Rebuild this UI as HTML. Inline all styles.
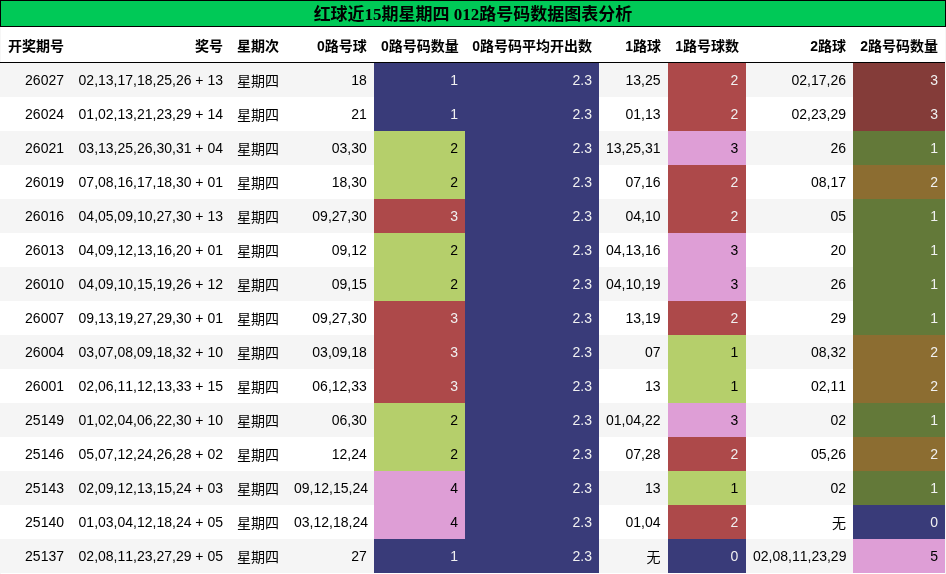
<!DOCTYPE html>
<html lang="zh"><head><meta charset="utf-8"><title>红球近15期星期四 012路号码数据图表分析</title>
<style>
html,body{margin:0;padding:0;background:#fff;}
body{width:946px;height:574px;overflow:hidden;font-kerning:none;font-family:"Liberation Sans","Noto Sans CJK SC",sans-serif;}
table{border-collapse:separate;border-spacing:0;table-layout:fixed;width:945px;color:#000;font-size:14px;position:absolute;left:0;top:27px;}
.edge{position:absolute;top:27px;width:1px;height:547px;background:#f6f6f6;}
.cap{position:absolute;left:0;top:0;width:946px;box-sizing:border-box;height:27px;overflow:hidden;background:#00c957;border:1px solid #000;font-family:"Liberation Serif","Noto Sans CJK SC",serif;font-weight:bold;font-size:17px;line-height:25px;text-align:center;padding:1px 0 0 0;}
th,td{text-align:right;vertical-align:middle;padding:0 7px;white-space:nowrap;border:none;box-sizing:border-box;}
th{font-weight:bold;height:36px;border-bottom:1px solid #000;}
td{height:34px;}
th:nth-child(3),td:nth-child(3){padding-right:8.3px}
th:nth-child(4),td:nth-child(4){padding-right:7.2px}
td:nth-child(7){padding-right:7.5px}
td:nth-child(8){padding-right:7.7px}
tbody tr:nth-child(odd){background:#f5f5f5;}
tbody tr:nth-child(even){background:#fff;}
</style></head><body>
<div class="cap">红球近15期星期四 012路号码数据图表分析</div>
<div class="edge" style="left:0"></div><div class="edge" style="left:945px"></div>
<table>
<colgroup>
<col style="width:71px">
<col style="width:159px">
<col style="width:57px">
<col style="width:87px">
<col style="width:91px">
<col style="width:134px">
<col style="width:69px">
<col style="width:78px">
<col style="width:107px">
<col style="width:92px">
</colgroup>
<thead><tr>
<th>开奖期号</th>
<th>奖号</th>
<th>星期次</th>
<th>0路号球</th>
<th>0路号码数量</th>
<th>0路号码平均开出数</th>
<th>1路球</th>
<th>1路号球数</th>
<th>2路球</th>
<th>2路号码数量</th>
</tr></thead>
<tbody>
<tr><td>26027</td><td>02,13,17,18,25,26 + 13</td><td>星期四</td><td>18</td><td style="background:#393b79;color:#f1f1f1">1</td><td style="background:#393b79;color:#f1f1f1">2.3</td><td>13,25</td><td style="background:#ad494a;color:#f1f1f1">2</td><td>02,17,26</td><td style="background:#843c39;color:#f1f1f1">3</td></tr>
<tr><td>26024</td><td>01,02,13,21,23,29 + 14</td><td>星期四</td><td>21</td><td style="background:#393b79;color:#f1f1f1">1</td><td style="background:#393b79;color:#f1f1f1">2.3</td><td>01,13</td><td style="background:#ad494a;color:#f1f1f1">2</td><td>02,23,29</td><td style="background:#843c39;color:#f1f1f1">3</td></tr>
<tr><td>26021</td><td>03,13,25,26,30,31 + 04</td><td>星期四</td><td>03,30</td><td style="background:#b5cf6b;color:#000">2</td><td style="background:#393b79;color:#f1f1f1">2.3</td><td>13,25,31</td><td style="background:#de9ed6;color:#000">3</td><td>26</td><td style="background:#637939;color:#f1f1f1">1</td></tr>
<tr><td>26019</td><td>07,08,16,17,18,30 + 01</td><td>星期四</td><td>18,30</td><td style="background:#b5cf6b;color:#000">2</td><td style="background:#393b79;color:#f1f1f1">2.3</td><td>07,16</td><td style="background:#ad494a;color:#f1f1f1">2</td><td>08,17</td><td style="background:#8c6d31;color:#f1f1f1">2</td></tr>
<tr><td>26016</td><td>04,05,09,10,27,30 + 13</td><td>星期四</td><td>09,27,30</td><td style="background:#ad494a;color:#f1f1f1">3</td><td style="background:#393b79;color:#f1f1f1">2.3</td><td>04,10</td><td style="background:#ad494a;color:#f1f1f1">2</td><td>05</td><td style="background:#637939;color:#f1f1f1">1</td></tr>
<tr><td>26013</td><td>04,09,12,13,16,20 + 01</td><td>星期四</td><td>09,12</td><td style="background:#b5cf6b;color:#000">2</td><td style="background:#393b79;color:#f1f1f1">2.3</td><td>04,13,16</td><td style="background:#de9ed6;color:#000">3</td><td>20</td><td style="background:#637939;color:#f1f1f1">1</td></tr>
<tr><td>26010</td><td>04,09,10,15,19,26 + 12</td><td>星期四</td><td>09,15</td><td style="background:#b5cf6b;color:#000">2</td><td style="background:#393b79;color:#f1f1f1">2.3</td><td>04,10,19</td><td style="background:#de9ed6;color:#000">3</td><td>26</td><td style="background:#637939;color:#f1f1f1">1</td></tr>
<tr><td>26007</td><td>09,13,19,27,29,30 + 01</td><td>星期四</td><td>09,27,30</td><td style="background:#ad494a;color:#f1f1f1">3</td><td style="background:#393b79;color:#f1f1f1">2.3</td><td>13,19</td><td style="background:#ad494a;color:#f1f1f1">2</td><td>29</td><td style="background:#637939;color:#f1f1f1">1</td></tr>
<tr><td>26004</td><td>03,07,08,09,18,32 + 10</td><td>星期四</td><td>03,09,18</td><td style="background:#ad494a;color:#f1f1f1">3</td><td style="background:#393b79;color:#f1f1f1">2.3</td><td>07</td><td style="background:#b5cf6b;color:#000">1</td><td>08,32</td><td style="background:#8c6d31;color:#f1f1f1">2</td></tr>
<tr><td>26001</td><td>02,06,11,12,13,33 + 15</td><td>星期四</td><td>06,12,33</td><td style="background:#ad494a;color:#f1f1f1">3</td><td style="background:#393b79;color:#f1f1f1">2.3</td><td>13</td><td style="background:#b5cf6b;color:#000">1</td><td>02,11</td><td style="background:#8c6d31;color:#f1f1f1">2</td></tr>
<tr><td>25149</td><td>01,02,04,06,22,30 + 10</td><td>星期四</td><td>06,30</td><td style="background:#b5cf6b;color:#000">2</td><td style="background:#393b79;color:#f1f1f1">2.3</td><td>01,04,22</td><td style="background:#de9ed6;color:#000">3</td><td>02</td><td style="background:#637939;color:#f1f1f1">1</td></tr>
<tr><td>25146</td><td>05,07,12,24,26,28 + 02</td><td>星期四</td><td>12,24</td><td style="background:#b5cf6b;color:#000">2</td><td style="background:#393b79;color:#f1f1f1">2.3</td><td>07,28</td><td style="background:#ad494a;color:#f1f1f1">2</td><td>05,26</td><td style="background:#8c6d31;color:#f1f1f1">2</td></tr>
<tr><td>25143</td><td>02,09,12,13,15,24 + 03</td><td>星期四</td><td>09,12,15,24</td><td style="background:#de9ed6;color:#000">4</td><td style="background:#393b79;color:#f1f1f1">2.3</td><td>13</td><td style="background:#b5cf6b;color:#000">1</td><td>02</td><td style="background:#637939;color:#f1f1f1">1</td></tr>
<tr><td>25140</td><td>01,03,04,12,18,24 + 05</td><td>星期四</td><td>03,12,18,24</td><td style="background:#de9ed6;color:#000">4</td><td style="background:#393b79;color:#f1f1f1">2.3</td><td>01,04</td><td style="background:#ad494a;color:#f1f1f1">2</td><td>无</td><td style="background:#393b79;color:#f1f1f1">0</td></tr>
<tr><td>25137</td><td>02,08,11,23,27,29 + 05</td><td>星期四</td><td>27</td><td style="background:#393b79;color:#f1f1f1">1</td><td style="background:#393b79;color:#f1f1f1">2.3</td><td>无</td><td style="background:#393b79;color:#f1f1f1">0</td><td>02,08,11,23,29</td><td style="background:#de9ed6;color:#000">5</td></tr>
</tbody></table></body></html>
